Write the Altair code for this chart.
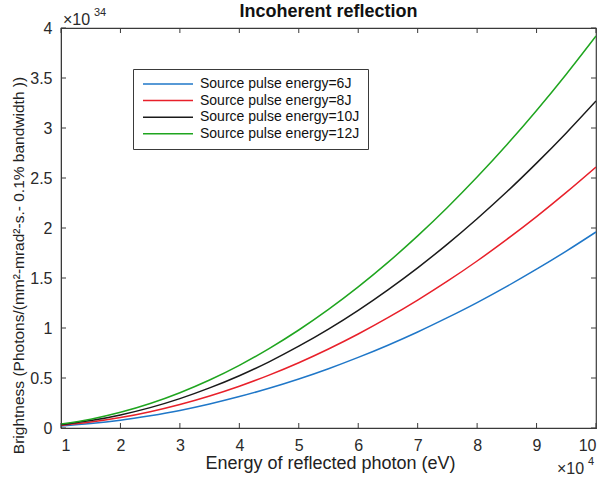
import altair as alt
import pandas as pd

# Photon energy (units of 1e4 eV)
energy = [1, 1.5, 2, 2.5, 3, 3.5, 4, 4.5, 5, 5.5, 6, 6.5, 7, 7.5, 8, 8.5, 9, 9.5, 10]

# Brightness (units of 1e34) for each source pulse energy
b_6J = [0.020, 0.044, 0.078, 0.123, 0.176, 0.240, 0.314, 0.397, 0.490, 0.593,
        0.706, 0.828, 0.960, 1.103, 1.254, 1.416, 1.588, 1.769, 1.960]
b_8J = [0.026, 0.059, 0.104, 0.163, 0.235, 0.320, 0.418, 0.529, 0.653, 0.790,
        0.940, 1.103, 1.279, 1.468, 1.670, 1.886, 2.114, 2.356, 2.610]
b_10J = [0.033, 0.074, 0.131, 0.204, 0.294, 0.401, 0.523, 0.662, 0.818, 0.989,
         1.177, 1.382, 1.602, 1.839, 2.093, 2.362, 2.649, 2.951, 3.270]
b_12J = [0.039, 0.088, 0.157, 0.245, 0.353, 0.480, 0.627, 0.794, 0.980, 1.186,
         1.411, 1.656, 1.921, 2.205, 2.509, 2.832, 3.175, 3.538, 3.920]

series_names = ["Source pulse energy=6J", "Source pulse energy=8J",
                "Source pulse energy=10J", "Source pulse energy=12J"]
series_colors = ["#1f77c8", "#e8202a", "#1a1a1a", "#1fa51f"]

x_ticks = [1, 2, 3, 4, 5, 6, 7, 8, 9, 10]
y_ticks = [0, 0.5, 1, 1.5, 2, 2.5, 3, 3.5, 4]

rows = []
for name, vals in zip(series_names, [b_6J, b_8J, b_10J, b_12J]):
    for e, b in zip(energy, vals):
        rows.append({"energy": e, "brightness": b, "series": name})
df = pd.DataFrame(rows)

W, H = 535, 400
FONT = "Liberation Sans"
FRAME = "#3a3a3a"
TXT = "#2a2a2a"

x_scale = alt.Scale(domain=[1, 10], nice=False, zero=False)
y_scale = alt.Scale(domain=[0, 4], nice=False)

lines = alt.Chart(df).mark_line(strokeWidth=1.5, clip=True, interpolate="monotone").encode(
    x=alt.X("energy:Q", scale=x_scale,
            axis=alt.Axis(values=x_ticks, title="Energy of reflected photon (eV)",
                          ticks=False, labelPadding=9, format="~g",
                          titleX=269, titleY=35, titleBaseline="middle",
                          titleFontSize=18)),
    y=alt.Y("brightness:Q", scale=y_scale,
            axis=alt.Axis(values=y_ticks,
                          title="Brightness (Photons/(mm²-mrad²-s.- 0.1% bandwidth ))",
                          ticks=False, labelPadding=9, format="~g",
                          titleX=-43, titleY=237, titleBaseline="middle",
                          titleFontSize=15.5)),
    color=alt.Color("series:N",
                    scale=alt.Scale(domain=series_names, range=series_colors),
                    sort=series_names,
                    legend=alt.Legend(title=None, orient="none", legendX=72, legendY=41,
                                      symbolType="M-1,0H9", symbolSize=100,
                                      symbolStrokeWidth=1.5, labelOffset=45,
                                      labelFontSize=14, labelFont=FONT,
                                      labelColor="#111111", rowPadding=2.6,
                                      padding=8, strokeColor=FRAME, fillColor="white")),
)

# Inward-pointing tick marks on all four sides of the frame
xt = pd.DataFrame({"v": x_ticks})
yt = pd.DataFrame({"v": y_ticks})
tick_color = FRAME
bottom_ticks = alt.Chart(xt).mark_rule(color=tick_color).encode(
    x=alt.X("v:Q", scale=x_scale), y=alt.value(H), y2=alt.value(H - 5))
top_ticks = alt.Chart(xt).mark_rule(color=tick_color).encode(
    x=alt.X("v:Q", scale=x_scale), y=alt.value(0), y2=alt.value(5))
left_ticks = alt.Chart(yt).mark_rule(color=tick_color).encode(
    y=alt.Y("v:Q", scale=y_scale), x=alt.value(0), x2=alt.value(5))
right_ticks = alt.Chart(yt).mark_rule(color=tick_color).encode(
    y=alt.Y("v:Q", scale=y_scale), x=alt.value(W), x2=alt.value(W - 5))

# Chart title and axis exponent multipliers
one = pd.DataFrame({"a": [0]})
title = alt.Chart(one).mark_text(align="center", baseline="middle", fontSize=18,
                                 fontWeight="bold", font=FONT, color="#111111").encode(
    x=alt.value(W / 2), y=alt.value(-16), text=alt.value("Incoherent reflection"))
y_mult = alt.Chart(one).mark_text(align="left", baseline="middle", fontSize=16,
                                  font=FONT, color=TXT).encode(
    x=alt.value(2), y=alt.value(-8), text=alt.value("×10"))
y_exp = alt.Chart(one).mark_text(align="left", baseline="middle", fontSize=11,
                                 font=FONT, color=TXT).encode(
    x=alt.value(33), y=alt.value(-15), text=alt.value("34"))
x_mult = alt.Chart(one).mark_text(align="left", baseline="middle", fontSize=16,
                                  font=FONT, color=TXT).encode(
    x=alt.value(496), y=alt.value(41 + H), text=alt.value("×10"))
x_exp = alt.Chart(one).mark_text(align="left", baseline="middle", fontSize=11,
                                 font=FONT, color=TXT).encode(
    x=alt.value(527), y=alt.value(34 + H), text=alt.value("4"))

chart = alt.layer(
    lines, bottom_ticks, top_ticks, left_ticks, right_ticks,
    title, y_mult, y_exp, x_mult, x_exp,
).properties(
    width=W, height=H,
    autosize=alt.AutoSizeParams(type="none"),
    padding={"left": 61, "top": 28, "right": 7, "bottom": 50},
).configure_view(
    stroke=FRAME, strokeWidth=1.2
).configure_axis(
    labelFont=FONT, labelFontSize=16, labelColor=TXT,
    titleFont=FONT, titleFontWeight="normal", titleColor="#222222",
    domainColor=FRAME, grid=False,
)

chart.save("out.html", embed_options={"renderer": "svg", "actions": False})
